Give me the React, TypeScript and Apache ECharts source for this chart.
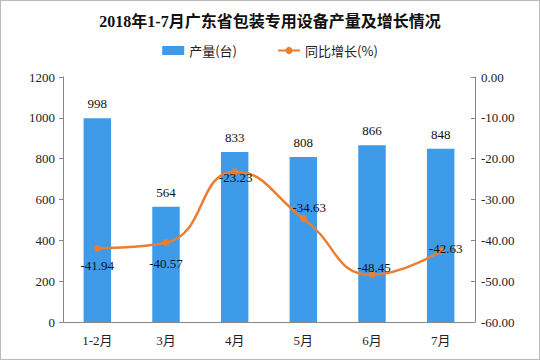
import React, { useEffect, useRef } from "react";
import * as echarts from "echarts";

const categories = ["1-2月", "3月", "4月", "5月", "6月", "7月"];
const production = [998, 564, 833, 808, 866, 848];
const growth = [-41.94, -40.57, -23.23, -34.63, -48.45, -42.63];
const growthLabelOffsets: [number, number][] = [
  [0, 17],
  [0, 21],
  [1, 6],
  [6, -11],
  [2, -7],
  [5, -3],
];

export default function App() {
  const ref = useRef<HTMLDivElement>(null);
  useEffect(() => {
    if (!ref.current) return;
    const chart = echarts.init(ref.current, undefined, { renderer: "svg" });
    const numFont = "'Liberation Serif', 'Noto Sans CJK SC', serif";
    chart.setOption({
      animation: false,
      backgroundColor: "#ffffff",
      title: {
        text: "2018年1-7月广东省包装专用设备产量及增长情况",
        left: "center",
        top: 7,
        textStyle: {
          fontSize: 16,
          fontWeight: "bold",
          color: "#111",
          fontFamily: "'Liberation Serif', 'Noto Sans CJK SC', serif",
        },
      },
      legend: {
        top: 38,
        left: "center",
        itemGap: 40,
        itemWidth: 22,
        itemHeight: 9,
        textStyle: { fontSize: 13, color: "#222", fontFamily: "'Noto Sans CJK SC', sans-serif" },
        data: [
          { name: "产量(台)", icon: "rect" },
          { name: "同比增长(%)" },
        ],
      },
      grid: { left: 62, right: 64, top: 76, bottom: 37 },
      xAxis: {
        type: "category",
        data: categories,
        axisLine: { lineStyle: { color: "#888" } },
        axisTick: { show: false },
        axisLabel: { color: "#222", fontSize: 13, margin: 12, fontFamily: numFont },
      },
      yAxis: [
        {
          type: "value",
          min: 0,
          max: 1200,
          interval: 200,
          splitLine: { show: false },
          axisLine: { show: true, lineStyle: { color: "#888" } },
          axisTick: { show: true, length: 4, lineStyle: { color: "#888" } },
          axisLabel: {
            color: "#222",
            fontSize: 13,
            margin: 8,
            fontFamily: numFont,
            formatter: (v: number) => String(v),
          },
        },
        {
          type: "value",
          min: -60,
          max: 0,
          interval: 10,
          splitLine: { show: false },
          axisLine: { show: true, lineStyle: { color: "#888" } },
          axisTick: { show: true, inside: true, length: 4, lineStyle: { color: "#888" } },
          axisLabel: {
            color: "#222",
            fontSize: 13,
            margin: 6,
            fontFamily: numFont,
            formatter: (v: number) => v.toFixed(2),
          },
        },
      ],
      series: [
        {
          name: "产量(台)",
          type: "bar",
          data: production,
          barWidth: "40%",
          itemStyle: { color: "#3d9be9" },
          label: {
            show: true,
            position: "top",
            distance: 8,
            color: "#111",
            fontSize: 13,
            fontFamily: numFont,
          },
        },
        {
          name: "同比增长(%)",
          type: "line",
          yAxisIndex: 1,
          smooth: true,
          symbol: "circle",
          symbolSize: 7,
          lineStyle: { color: "#ED7D31", width: 2.5 },
          itemStyle: { color: "#ED7D31" },
          data: growth.map((v, i) => ({
            value: v,
            label: { offset: growthLabelOffsets[i] },
          })),
          label: {
            show: true,
            position: "inside",
            color: "#111",
            fontSize: 13,
            fontFamily: numFont,
            formatter: (p: any) => Number(p.value).toFixed(2),
          },
          z: 3,
        },
      ],
    });
    return () => chart.dispose();
  }, []);
  return (
    <div
      ref={ref}
      style={{
        position: "fixed",
        left: 0,
        top: 0,
        width: 540,
        height: 360,
        boxSizing: "border-box",
        border: "1px solid #bbb",
      }}
    />
  );
}
